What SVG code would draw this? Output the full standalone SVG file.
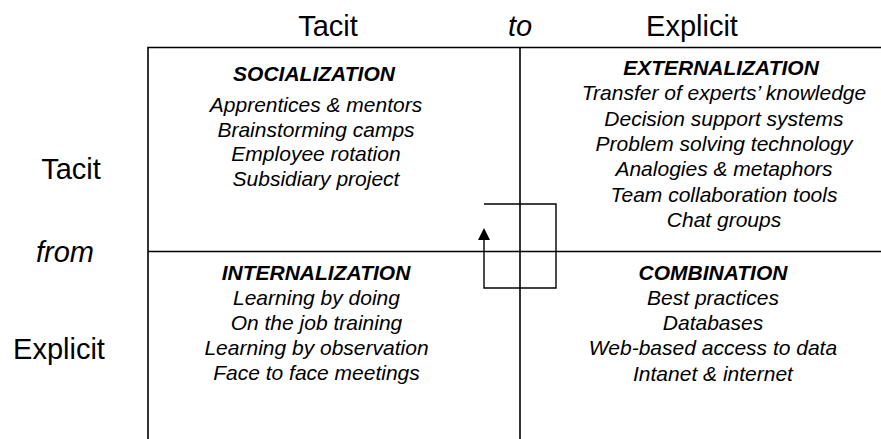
<svg xmlns="http://www.w3.org/2000/svg" width="881" height="439" viewBox="0 0 881 439">
<defs>
<style>
.axis{font-family:"Liberation Sans",Arial,sans-serif;font-size:29px;fill:#000;text-anchor:middle}
.it{font-style:italic}
.head{font-family:"Liberation Sans",Arial,sans-serif;font-size:21px;font-weight:bold;font-style:italic;fill:#000;text-anchor:middle}
.item{font-family:"Liberation Sans",Arial,sans-serif;font-size:21px;font-style:italic;fill:#000;text-anchor:middle}
.grid{stroke:#000;stroke-width:1.6;fill:none}
.conn{stroke:#000;stroke-width:1.4;fill:none}
</style>
</defs>
<rect width="881" height="439" fill="#fff"/>
<g id="axes">
<text class="axis" x="328" y="36">Tacit</text>
<text class="axis it" x="520" y="36">to</text>
<text class="axis" x="692" y="36">Explicit</text>
<text class="axis" x="71" y="179">Tacit</text>
<text class="axis it" x="65" y="262">from</text>
<text class="axis" x="59" y="359">Explicit</text>
</g>
<g id="grid">
<path class="grid" d="M148,439 V47.5 H881 M520,47.5 V439 M148,251.5 H881"/>
</g>
<g id="socialization">
<text class="head" x="314" y="81">SOCIALIZATION</text>
<text class="item" x="316" y="112">Apprentices &amp; mentors</text>
<text class="item" x="316" y="137">Brainstorming camps</text>
<text class="item" x="316" y="161">Employee rotation</text>
<text class="item" x="316" y="186">Subsidiary project</text>
</g>
<g id="externalization">
<text class="head" x="721" y="75">EXTERNALIZATION</text>
<text class="item" x="724" y="100">Transfer of experts’ knowledge</text>
<text class="item" x="724" y="126">Decision support systems</text>
<text class="item" x="724" y="151">Problem solving technology</text>
<text class="item" x="724" y="176">Analogies &amp; metaphors</text>
<text class="item" x="724" y="201.5">Team collaboration tools</text>
<text class="item" x="724" y="226.5">Chat groups</text>
</g>
<g id="internalization">
<text class="head" x="316" y="280">INTERNALIZATION</text>
<text class="item" x="316.5" y="305">Learning by doing</text>
<text class="item" x="316.5" y="330">On the job training</text>
<text class="item" x="316.5" y="355">Learning by observation</text>
<text class="item" x="316.5" y="380">Face to face meetings</text>
</g>
<g id="combination">
<text class="head" x="713" y="280">COMBINATION</text>
<text class="item" x="713" y="305">Best practices</text>
<text class="item" x="713" y="330">Databases</text>
<text class="item" x="713" y="355">Web-based access to data</text>
<text class="item" x="713" y="380.5">Intanet &amp; internet</text>
</g>
<g id="connectors">
<path class="conn" d="M484,204 H556 V288 H484 V239"/>
<polygon points="484,228 478,240 490,240" fill="#000"/>
</g>
</svg>
